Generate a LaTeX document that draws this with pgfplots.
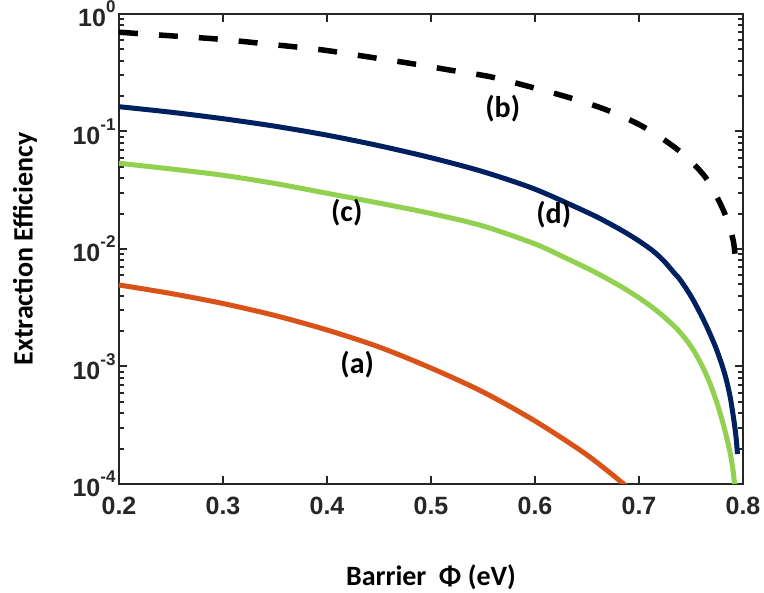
\documentclass[border=0pt]{standalone}
\usepackage{pgfplots}
\pgfplotsset{compat=1.18}
\usepackage{fontspec}
\setmainfont{Carlito}
\newfontfamily\arialfont{Liberation Sans}
\definecolor{axgray}{RGB}{38,38,38}
\definecolor{corange}{RGB}{217,83,25}
\definecolor{cnavy}{RGB}{0,32,96}
\definecolor{cgreen}{RGB}{146,208,80}
\newcommand{\ytl}[1]{10\raisebox{0.55em}{\fontsize{17}{17}\selectfont #1}}
\begin{document}
\begin{tikzpicture}
\useasboundingbox (0,0) rectangle (764pt,593pt);
\begin{axis}[
  at={(119pt,109pt)}, anchor=south west,
  scale only axis, width=624pt, height=470pt,
  xmin=0.2, xmax=0.8, ymode=log, ymin=1e-4, ymax=1,
  xtick={0.2,0.3,0.4,0.5,0.6,0.7,0.8},
  xticklabels={0.2,0.3,0.4,0.5,0.6,0.7,0.8},
  ytick={1e-4,1e-3,1e-2,1e-1,1},
  yticklabels={\ytl{-4},\ytl{-3},\ytl{-2},\ytl{-1},\ytl{0}},
  tick label style={font=\arialfont\bfseries\fontsize{25}{25}\selectfont, text=axgray},
  xticklabel style={yshift=-10pt},
  tick align=inside,
  major tick length=8pt, minor tick length=5pt,
  tick style={line width=2pt, draw=axgray},
  axis line style={line width=2.5pt, draw=axgray},
  xlabel={Barrier\hspace{0.45em}Φ (eV)},
  ylabel={Extraction Efficiency},
  label style={font=\bfseries\fontsize{28}{28}\selectfont},
  xlabel style={at={(axis description cs:0.5,-0.1979)}, anchor=center},
  ylabel style={at={(axis description cs:-0.1506,0.5)}, anchor=center},
]
% (a) orange
\addplot[corange, line width=5pt, smooth, tension=0.5] coordinates {
(0.2,4.94e-3) (0.25,4.18e-3) (0.3,3.436e-3) (0.35,2.716e-3) (0.4,2.046e-3)
(0.45,1.466e-3) (0.5,9.70e-4) (0.55,6.07e-4) (0.6,3.436e-4)
(0.65,1.766e-4) (0.69,9.25e-5)};
% (c) green
\addplot[cgreen, line width=5pt, smooth, tension=0.5] coordinates {
(0.2,0.0536) (0.25,0.0480) (0.3,0.0424) (0.35,0.0361) (0.4,0.0298)
(0.45,0.0246) (0.5,0.02005) (0.55,0.0157) (0.6,0.01104)
(0.6269,0.008601) (0.6573,0.006373) (0.6834,0.004749) (0.7030,0.003681)
(0.7201,0.002836) (0.7375,0.002045) (0.7502,0.001474) (0.7603,0.001030)
(0.7682,7.19e-4) (0.7740,5.19e-4) (0.7790,3.74e-4) (0.7837,2.61e-4)
(0.7877,1.825e-4) (0.7904,1.315e-4) (0.7920,9.8e-5) (0.7927,8.55e-5)};
% (d) navy
\addplot[cnavy, line width=5pt, smooth, tension=0.5] coordinates {
(0.2,0.1626) (0.25,0.1459) (0.3,0.1285) (0.35,0.1109) (0.4,0.0931)
(0.45,0.0757) (0.5,0.0598) (0.55,0.0455) (0.6,0.0323) (0.65,0.02056)
(0.6688,0.01698) (0.6861,0.01395) (0.7000,0.01170) (0.7135,0.00962)
(0.7240,0.00790) (0.7339,0.00625) (0.7397,0.00545) (0.7510,0.003828)
(0.7635,0.002346) (0.7740,0.001437) (0.7822,8.80e-4) (0.7875,5.61e-4)
(0.7912,3.504e-4) (0.7933,2.512e-4) (0.7947,1.80e-4)};
% (b) black dashed
\addplot[black, line width=5.5pt, dash pattern=on 19pt off 21pt, smooth, tension=0.5] coordinates {
(0.2,0.700) (0.25,0.652) (0.297,0.6095) (0.35,0.547) (0.396,0.494)
(0.44,0.431) (0.48,0.380) (0.518,0.3334) (0.557,0.2924) (0.595,0.2404)
(0.632,0.1954) (0.669,0.1524) (0.704,0.1099) (0.7375,0.0697)
(0.7635,0.0412) (0.781,0.02148) (0.7905,0.01194) (0.793,0.00731)};
\node[font=\bfseries\fontsize{30}{30}\selectfont] at (axis cs:0.569,0.158) {(b)};
\node[font=\bfseries\fontsize{30}{30}\selectfont] at (axis cs:0.419,0.0202) {(c)};
\node[font=\bfseries\fontsize{30}{30}\selectfont] at (axis cs:0.618,0.01946) {(d)};
\node[font=\bfseries\fontsize{30}{30}\selectfont] at (axis cs:0.429,1.03e-3) {(a)};
\end{axis}
\end{tikzpicture}
\end{document}
